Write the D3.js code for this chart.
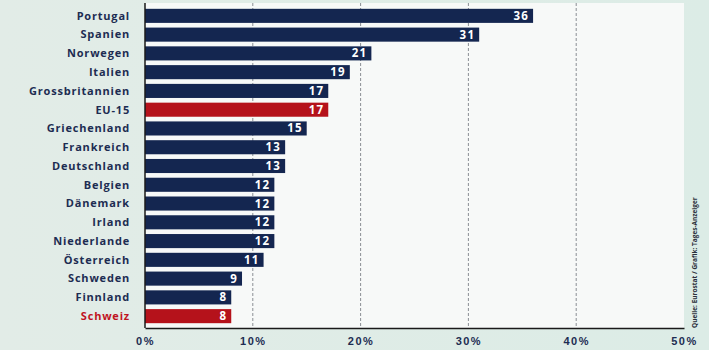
<!DOCTYPE html>
<html>
<head>
<meta charset="utf-8">
<script src="https://cdn.jsdelivr.net/npm/d3@7"></script>
<style>
  body { margin: 0; background: #e4efea; }
  svg { display: block; font-family: "Open Sans", sans-serif; }
  .cat { font-size: 11px; font-weight: 700; fill: #1d2c52; letter-spacing: 0.8px; }
  .val { font-size: 11.5px; font-weight: 700; fill: #ffffff; letter-spacing: 1.2px; }
  .tick text { font-size: 11px; font-weight: 700; fill: #1d2c52; letter-spacing: 1.5px; }
</style>
</head>
<body>
<svg width="709" height="350"></svg>
<script>
const countries = ["Portugal", "Spanien", "Norwegen", "Italien", "Grossbritannien", "EU-15",
    "Griechenland", "Frankreich", "Deutschland", "Belgien", "Dänemark", "Irland",
    "Niederlande", "Österreich", "Schweden", "Finnland", "Schweiz"];
const values = [36, 31, 21, 19, 17, 17, 15, 13, 13, 12, 12, 12, 12, 11, 9, 8, 8];
const highlighted = ["EU-15", "Schweiz"];
const xTicks = [0, 10, 20, 30, 40, 50];
const credit = "Quelle: Eurostat / Grafik: Tages-Anzeiger";

window.addEventListener('load', () => {
    const svg = d3.select("svg"),
        margin = {top: 3, right: 25, bottom: 22, left: 145},
        width = +svg.attr("width") - margin.left - margin.right,
        height = +svg.attr("height") - margin.top - margin.bottom;

    const data = countries.map((c, i) => ({ name: c, value: values[i] }));

    const x = d3.scaleLinear().domain([0, 50]).range([0, width]);
    const y = d3.scaleBand().domain(countries).range([3, height - 2])
        .paddingInner(0.25).paddingOuter(0.15);

    // light gradient behind
    const defs = svg.append("defs");
    const grad = defs.append("linearGradient").attr("id", "bg")
        .attr("x1", 0).attr("y1", 0).attr("x2", 1).attr("y2", 0);
    grad.append("stop").attr("offset", "0%").attr("stop-color", "#e2ece7");
    grad.append("stop").attr("offset", "100%").attr("stop-color", "#dcece6");
    svg.append("rect").attr("width", 709).attr("height", 350).attr("fill", "url(#bg)");

    const g = svg.append("g")
        .attr("transform", "translate(" + margin.left + "," + margin.top + ")");

    g.append("rect")
        .attr("width", width)
        .attr("height", height)
        .attr("fill", "#f7f9f8");

    // dashed grid
    g.selectAll(".grid")
        .data(xTicks.slice(1, -1))
        .enter().append("line")
        .attr("class", "grid")
        .attr("x1", d => x(d)).attr("x2", d => x(d))
        .attr("y1", 0).attr("y2", height)
        .attr("stroke", "#8a8f94")
        .attr("stroke-width", 1)
        .attr("stroke-dasharray", "3,2");

    // bars
    g.selectAll(".bar")
        .data(data)
        .enter().append("rect")
        .attr("class", "bar")
        .attr("x", 0)
        .attr("y", d => y(d.name))
        .attr("width", d => x(d.value))
        .attr("height", y.bandwidth())
        .attr("fill", d => highlighted.includes(d.name) ? "#b5121b" : "#142650");

    g.selectAll(".val")
        .data(data)
        .enter().append("text")
        .attr("class", "val")
        .attr("x", d => x(d.value) - 4)
        .attr("y", d => y(d.name) + y.bandwidth() / 2)
        .attr("dy", "0.35em")
        .attr("text-anchor", "end")
        .text(d => d.value);

    g.selectAll(".cat")
        .data(data)
        .enter().append("text")
        .attr("class", "cat")
        .attr("x", -15)
        .attr("y", d => y(d.name) + y.bandwidth() / 2)
        .attr("dy", "0.35em")
        .attr("text-anchor", "end")
        .style("fill", d => d.name === "Schweiz" ? "#c0141f" : null)
        .text(d => d.name);

    // axes lines
    g.append("line")
        .attr("x1", 0).attr("x2", 0).attr("y1", 0).attr("y2", height)
        .attr("stroke", "#1a1a1a").attr("stroke-width", 1.5);

    const xAxis = d3.axisBottom(x).tickValues(xTicks).tickSize(0).tickPadding(9)
        .tickFormat(d => d + "%");
    const ax = g.append("g")
        .attr("transform", "translate(0," + height + ")")
        .call(xAxis);
    ax.select(".domain").attr("stroke", "#1a1a1a").attr("stroke-width", 1.5);

    // credit
    svg.append("text")
        .attr("transform", "translate(697,328) rotate(-90)")
        .attr("font-size", 6.5)
        .attr("font-weight", 700)
        .attr("fill", "#2a2f3a")
        .text(credit);
});
</script>
</body>
</html>
